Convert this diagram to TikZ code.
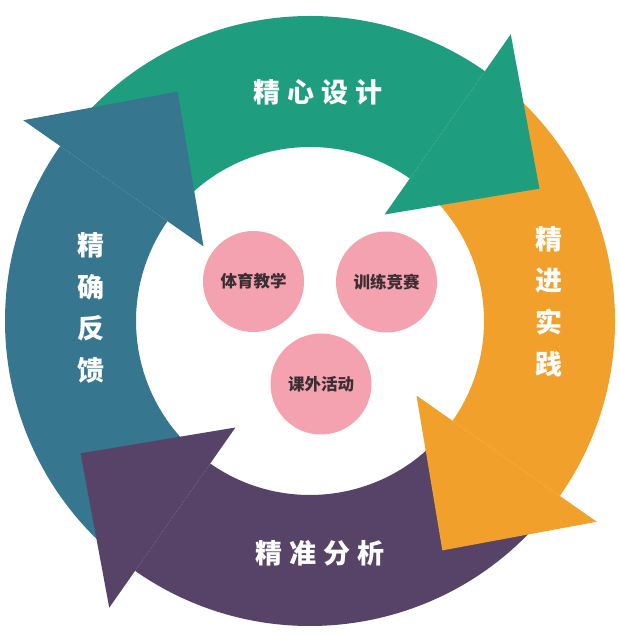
\documentclass[tikz,border=0pt]{standalone}
\usepackage{fontspec}
\newfontfamily\cjk{Noto Sans CJK SC}
\definecolor{cgreen}{HTML}{1F9E7F}
\definecolor{corange}{HTML}{F0A02B}
\definecolor{cpurple}{HTML}{574268}
\definecolor{cteal}{HTML}{36768E}
\definecolor{cpink}{HTML}{F4A2AF}
\definecolor{cdark}{HTML}{3A2E33}
\newcommand\ringshaft[3]{%
  \fill[#1] (#2:305pt) arc[start angle=#2,end angle=#3,radius=305pt]
    -- (#3:174pt) arc[start angle=#3,end angle=#2,radius=174pt] -- cycle;}
\newcommand\ringhead[2]{%
  \fill[#1] (#2:130pt) -- (#2:350pt) -- ({#2-25.02}:264.85pt) -- cycle;}
\begin{document}
\begin{tikzpicture}[x=1pt,y=1pt,
  bubble/.style={circle,fill=cpink,minimum size=101pt,inner sep=0pt,
    text=cdark,font=\cjk\bfseries\fontsize{16.5}{18}\selectfont},
  bandlabel/.style={text=white,inner sep=0pt,
    font=\cjk\bfseries\fontsize{27}{30}\selectfont},
  vlabel/.style={text=white,inner sep=0pt,align=center,
    font=\cjk\bfseries\fontsize{27}{41.7}\selectfont}]
\useasboundingbox (0,0) rectangle (618,636);
\fill[white] (0,0) rectangle (618,636);
\begin{scope}[shift={(310,315)}]
  % shafts
  \ringshaft{cgreen}{140}{55}
  \ringshaft{corange}{50}{-35}
  \ringshaft{cpurple}{-40}{-125}
  \ringshaft{cteal}{-130}{-215}
  % heads
  \ringhead{cgreen}{55}
  \ringhead{corange}{-35}
  \ringhead{cpurple}{-125}
  \ringhead{cteal}{145}
\end{scope}
% band labels
\node[bandlabel] (design) at (318,544) {精\hspace{7pt}心\hspace{7pt}设\hspace{7pt}计};
\node[bandlabel] (analyse) at (320,83) {精\hspace{7pt}准\hspace{7pt}分\hspace{7pt}析};
\node[vlabel] (feedback) at (91,328) {精\\确\\反\\馈};
\node[vlabel] (practice) at (549,334.5) {精\\进\\实\\践};
% bubbles
\node[bubble] (teach) at (253.5,354.5) {体育教学};
\node[bubble] (train) at (386.5,354) {训练竞赛};
\node[bubble] (extra) at (321,252) {课外活动};
\end{tikzpicture}
\end{document}
